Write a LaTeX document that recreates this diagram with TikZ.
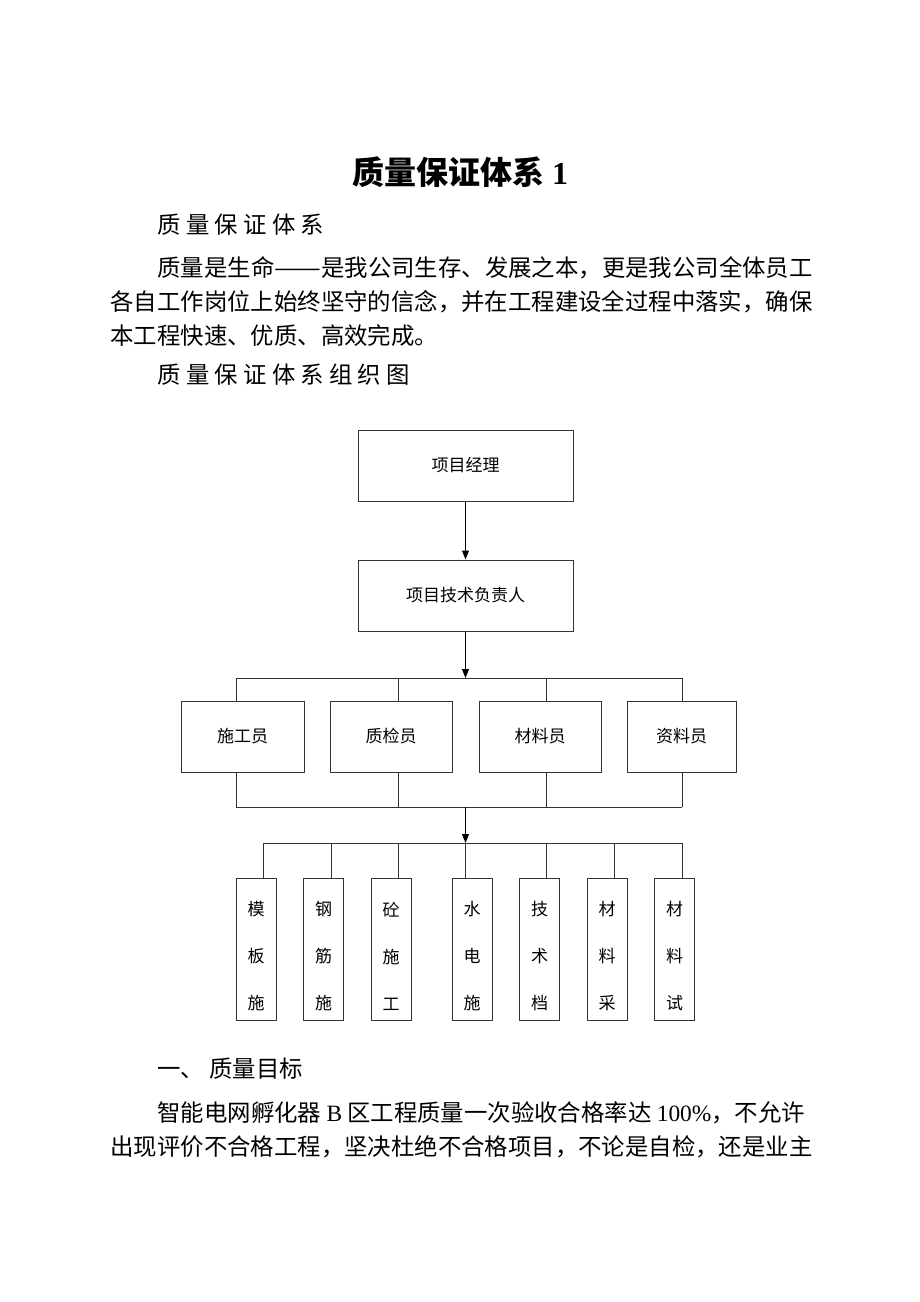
\documentclass[tikz,border=0pt]{standalone}
\usepackage{fontspec}
\setmainfont{Liberation Serif}
\newfontfamily\cjk{Noto Sans CJK SC}
\usepackage{tikz}
\usetikzlibrary{shapes.geometric, arrows, arrows.meta}
\tikzstyle{postbox} = [rectangle, 
minimum width=215pt, 
minimum height=71pt,
text centered, 
draw=black!80,
font=\cjk\fontsize{17}{17}\selectfont]
\tikzstyle{staffbox} = [rectangle, 
minimum height=71pt,
text centered, 
draw=black!80,
font=\cjk\fontsize{17}{17}\selectfont]
\tikzstyle{workbox} = [rectangle, 
minimum width=40pt, 
minimum height=142pt,
inner sep=0pt,
align=center, 
draw=black!80,
font=\cjk\fontsize{17}{47}\selectfont]
\tikzstyle{bodytext} = [anchor=west, inner sep=0pt, font=\cjk\fontsize{23.4}{23.4}\selectfont]
\tikzstyle{arrow} = [draw=black, ->,>={Stealth[length=9pt,width=7pt,inset=0pt]}]

\begin{document}
\begin{tikzpicture}[x=1pt, y=-1pt, node distance=130pt, line width=1pt, draw=black!80]
        \useasboundingbox (0,0) rectangle (920,1302);
        % page text
        \node (title) at (460,172) {\fontsize{32}{32}\selectfont\bfseries{\cjk 质量保证体系} 1};
        \node (head1) [bodytext] at (157,225) {质 量 保 证 体 系};
        \node (par1a) [bodytext] at (157,268) {质量是生命\resizebox{46.8pt}{\height}{——}是我公司生存、发展之本，更是我公司全体员工};
        \node (par1b) [bodytext] at (110,302) {各自工作岗位上始终坚守的信念，并在工程建设全过程中落实，确保};
        \node (par1c) [bodytext] at (110,336) {本工程快速、优质、高效完成。};
        \node (head2) [bodytext] at (157,375) {质 量 保 证 体 系 组 织 图};
        \node (head3) [bodytext] at (157,1069) {一、 质量目标};
        \node (par2a) [bodytext] at (157,1113) {智能电网孵化器 {\rmfamily B} 区工程质量一次验收合格率达 {\rmfamily 100\%}，不允许};
        \node (par2b) [bodytext] at (110,1147) {出现评价不合格工程，坚决杜绝不合格项目，不论是自检，还是业主};

        % chart
        \node (pm) [postbox] at (465.5,465.5) {项目经理};
        \node (tech) [postbox, below of=pm] {项目技术负责人};
        \node (sgy) [staffbox, minimum width=123pt] at (242.5,736.5) {施工员};
        \node (zjy) [staffbox, minimum width=122pt] at (391,736.5) {质检员};
        \node (cly) [staffbox, minimum width=122pt] at (540,736.5) {材料员};
        \node (zly) [staffbox, minimum width=109pt] at (681.5,736.5) {资料员};
        \node (mb) [workbox] at (256,949) {\rule{0pt}{29pt}模\\板\\施};
        \node (gj) [workbox] at (323.5,949) {\rule{0pt}{29pt}钢\\筋\\施};
        \node (tsg) [workbox] at (391,949) {\rule{0pt}{29pt}砼\\施\\工};
        \node (sd) [workbox] at (472,949) {\rule{0pt}{29pt}水\\电\\施};
        \node (jsd) [workbox] at (539.5,949) {\rule{0pt}{29pt}技\\术\\档};
        \node (clc) [workbox] at (607,949) {\rule{0pt}{29pt}材\\料\\采};
        \node (cls) [workbox] at (674.5,949) {\rule{0pt}{29pt}材\\料\\试};

        \coordinate (hub1) at (465.5,678);
        \coordinate (ta) at (236,678);
        \coordinate (tb) at (398,678);
        \coordinate (tc) at (546,678);
        \coordinate (td) at (682,678);
        \coordinate (hub2) at (465.5,807);
        \coordinate (ba) at (236,807);
        \coordinate (bb) at (398,807);
        \coordinate (bc) at (546,807);
        \coordinate (bd) at (682,807);
        \coordinate (hub3) at (465.5,843);
        \coordinate (la) at (263,843);
        \coordinate (lb) at (331,843);
        \coordinate (lc) at (398,843);
        \coordinate (ld) at (465.5,843);
        \coordinate (le) at (546,843);
        \coordinate (lf) at (614,843);
        \coordinate (lg) at (682,843);

        \draw [arrow] (pm) -- (tech);
        \draw [arrow] (tech) -- (hub1);
        \draw (ta) -- (td);
        \draw (ta) -- (ta |- sgy.north);
        \draw (tb) -- (tb |- zjy.north);
        \draw (tc) -- (tc |- cly.north);
        \draw (td) -- (td |- zly.north);
        \draw (ba |- sgy.south) -- (ba);
        \draw (bb |- zjy.south) -- (bb);
        \draw (bc |- cly.south) -- (bc);
        \draw (bd |- zly.south) -- (bd);
        \draw (ba) -- (bd);
        \draw [arrow] (hub2) -- (hub3);
        \draw (la) -- (lg);
        \draw (la) -- (la |- mb.north);
        \draw (lb) -- (lb |- gj.north);
        \draw (lc) -- (lc |- tsg.north);
        \draw (ld) -- (ld |- sd.north);
        \draw (le) -- (le |- jsd.north);
        \draw (lf) -- (lf |- clc.north);
        \draw (lg) -- (lg |- cls.north);
    \end{tikzpicture}
\end{document}
